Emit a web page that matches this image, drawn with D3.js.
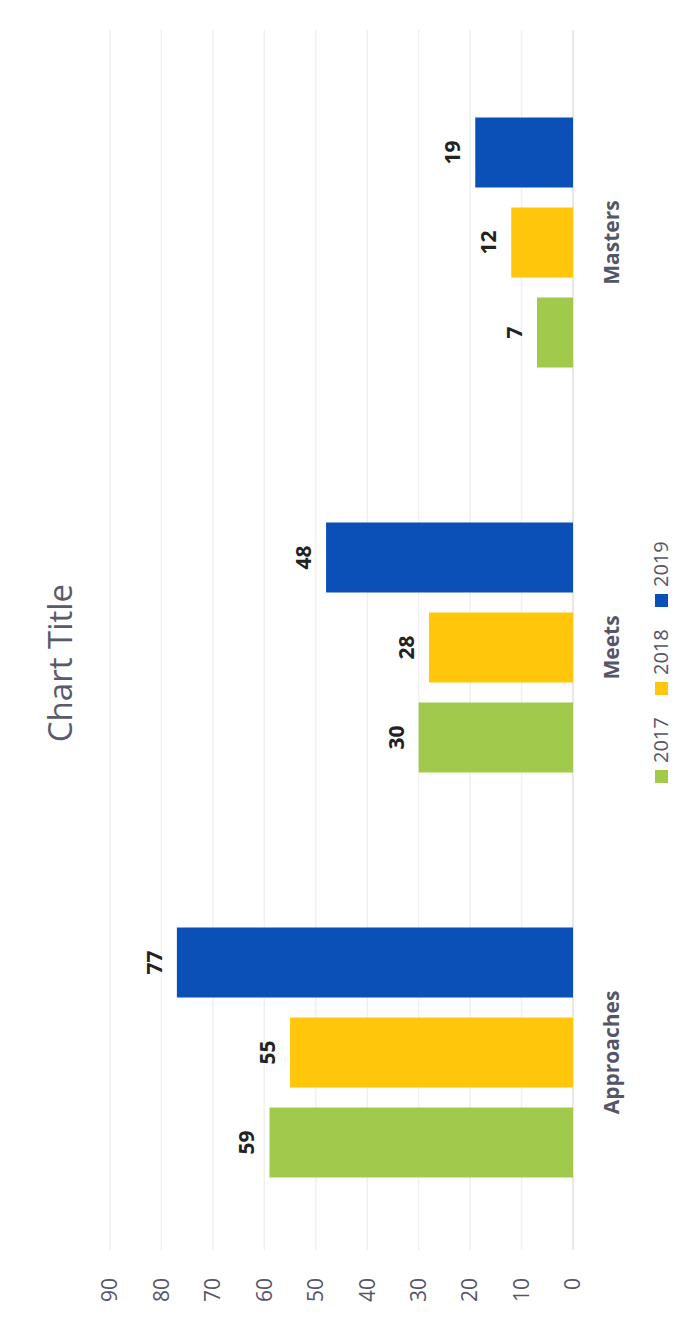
<!DOCTYPE html>
<html>
<head>
  <meta charset="utf-8">
  <title>Chart Title</title>
  <style>
    body { margin: 0; background: #fff; }
    svg { display: block; font-family: "Open Sans", sans-serif; }
  </style>
  <script src="https://d3js.org/d3.v7.min.js"></script>
</head>
<body>
  <svg id="chart" width="698" height="1322"></svg>
  <script>
    var categories = ["Approaches", "Meets", "Masters"];
    var years = ["2017", "2018", "2019"];
    var values2017 = [59, 30, 7];
    var values2018 = [55, 28, 12];
    var values2019 = [77, 48, 19];
    var yTicks = [0, 10, 20, 30, 40, 50, 60, 70, 80, 90];
    var colors = ["#a1c94b", "#ffc60b", "#0a50b6"];

    var W = 698, H = 1322;
    var svg = d3.select("#chart");

    // the page is scanned sideways: draw an upright chart, then turn it
    var g = svg.append("g")
        .attr("transform", "translate(0," + H + ") rotate(-90)");

    var series = [values2017, values2018, values2019];
    var data = categories.map(function(c, i) {
      return { cat: c, vals: years.map(function(yr, j) { return { year: yr, idx: j, value: series[j][i] }; }) };
    });

    var x0 = d3.scaleBand().domain(categories).range([67, 1282]);
    var x1 = d3.scaleBand().domain(years).range([-125, 125]).paddingInner(20 / 90);
    var y = d3.scaleLinear().domain([0, 90]).range([573, 110]);

    // gridlines
    g.append("g").selectAll("line")
        .data(yTicks)
        .join("line")
        .attr("x1", 72).attr("x2", 1292)
        .attr("y1", d => y(d)).attr("y2", d => y(d))
        .attr("stroke", d => d === 0 ? "#e0e0e0" : "#f0f0f0")
        .attr("stroke-width", 1.5);

    // tick labels
    g.append("g").selectAll("text")
        .data(yTicks)
        .join("text")
        .attr("x", 44)
        .attr("y", d => y(d))
        .attr("dy", "0.35em")
        .attr("text-anchor", "end")
        .attr("font-size", 21)
        .attr("fill", "#55556a")
        .text(d => d);

    var groups = g.append("g").selectAll("g")
        .data(data)
        .join("g")
        .attr("transform", d => "translate(" + (x0(d.cat) + x0.bandwidth() / 2) + ",0)");

    groups.selectAll("rect")
        .data(d => d.vals)
        .join("rect")
        .attr("x", d => x1(d.year))
        .attr("width", x1.bandwidth())
        .attr("y", d => y(d.value))
        .attr("height", d => y(0) - y(d.value))
        .attr("fill", d => colors[d.idx]);

    groups.selectAll("text.val")
        .data(d => d.vals)
        .join("text")
        .attr("class", "val")
        .attr("x", d => x1(d.year) + x1.bandwidth() / 2)
        .attr("y", d => y(d.value) - 15)
        .attr("text-anchor", "middle")
        .attr("font-size", 21)
        .attr("font-weight", "bold")
        .attr("fill", "#222")
        .text(d => d.value);

    groups.append("text")
        .attr("x", 0)
        .attr("y", 619)
        .attr("text-anchor", "middle")
        .attr("font-size", 21)
        .attr("font-weight", "bold")
        .attr("fill", "#55556a")
        .text(d => d.cat);

    // title
    g.append("text")
        .attr("x", 659)
        .attr("y", 72)
        .attr("text-anchor", "middle")
        .attr("font-size", 33)
        .attr("fill", "#5a5a6a")
        .text("Chart Title");

    // legend
    var legend = g.append("g").selectAll("g")
        .data(years)
        .join("g")
        .attr("transform", (d, i) => "translate(" + (539 + i * 88) + ",655)");

    legend.append("rect")
        .attr("width", 13).attr("height", 13)
        .attr("fill", (d, i) => colors[i]);

    legend.append("text")
        .attr("x", 20)
        .attr("y", 13)
        .attr("font-size", 20)
        .attr("fill", "#55556a")
        .text(d => d);
  </script>
</body>
</html>
